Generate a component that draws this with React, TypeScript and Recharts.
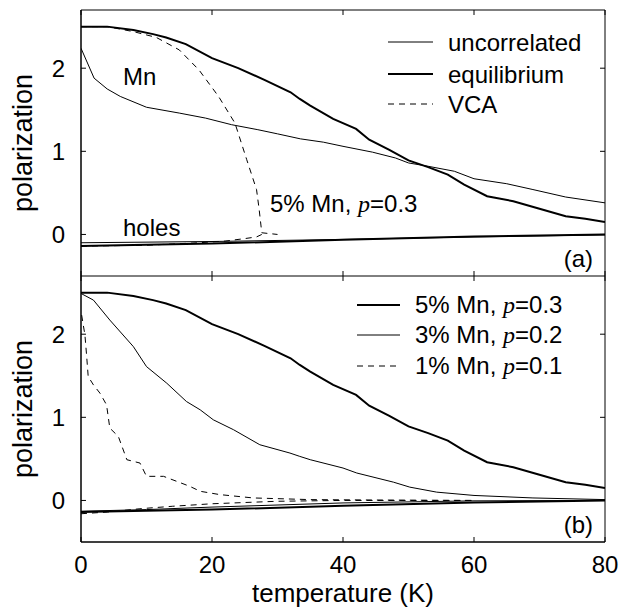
import React from "react";
import { LineChart, Line, XAxis, YAxis, ReferenceLine } from "recharts";

// temperatures (K) and polarization values
const eqT = [0, 4, 8, 11, 13, 16, 20, 24, 28, 32, 33.4, 35, 38.5, 42, 44, 47, 50, 53, 56, 58.5, 62, 66, 70, 74, 77, 80];
const eqMn = [2.5, 2.5, 2.46, 2.41, 2.37, 2.29, 2.12, 2.0, 1.86, 1.71, 1.63, 1.55, 1.39, 1.27, 1.14, 1.02, 0.89, 0.81, 0.72, 0.6, 0.46, 0.4, 0.31, 0.22, 0.19, 0.15];

const uncT = [0, 2, 4, 6, 10, 15, 19, 23, 27, 30, 33.5, 37, 40, 44.5, 48, 50, 53, 57, 60, 65, 69, 74, 80];
const uncMn = [2.24, 1.88, 1.75, 1.66, 1.53, 1.46, 1.4, 1.32, 1.26, 1.21, 1.15, 1.11, 1.06, 0.99, 0.92, 0.86, 0.82, 0.76, 0.67, 0.61, 0.54, 0.45, 0.38];

const vcaT = [0, 4, 8, 11.5, 15, 18, 21, 23.5, 25.3, 26.8, 27.2, 27.6, 30];
const vcaMn = [2.5, 2.5, 2.44, 2.37, 2.22, 1.98, 1.66, 1.34, 0.9, 0.54, 0.3, 0.02, 0.0];

const eqHoleT = [0, 20, 40, 60, 80];
const eqHoles = [-0.14, -0.11, -0.065, -0.025, 0.0];

const uncHoleT = [0, 20, 40, 60, 80];
const uncHoles = [-0.1, -0.085, -0.06, -0.03, -0.005];

const vcaHoleT = [0, 10, 14, 18, 22, 25, 26.8, 27.6];
const vcaHoles = [-0.14, -0.13, -0.115, -0.1, -0.08, -0.05, -0.03, 0.0];

const mn3T = [0, 1.9, 4.4, 8, 10, 13.1, 16.1, 18.2, 20.2, 23.3, 27.3, 31.9, 33.4, 35, 40, 42.1, 47.7, 50.2, 54.3, 60, 69, 80];
const mn3 = [2.49, 2.41, 2.17, 1.85, 1.61, 1.41, 1.19, 1.09, 0.97, 0.85, 0.67, 0.57, 0.53, 0.49, 0.39, 0.33, 0.22, 0.16, 0.1, 0.06, 0.03, 0.01];
const holes3T = [0, 10, 20, 40, 60, 80];
const holes3 = [-0.13, -0.11, -0.08, -0.03, -0.005, 0.0];

const mn1T = [0.1, 0.6, 0.87, 1.1, 1.9, 2.9, 3.9, 4.4, 5.7, 7, 9, 10, 12.6, 14.6, 16.6, 18.2, 21.2, 26.3, 35, 45, 60];
const mn1 = [2.23, 1.99, 1.73, 1.49, 1.39, 1.29, 1.15, 0.87, 0.77, 0.49, 0.45, 0.29, 0.29, 0.23, 0.17, 0.11, 0.07, 0.03, 0.01, 0.005, 0.0];
const holes1T = [0, 4, 9, 14, 20, 30, 40, 60];
const holes1 = [-0.16, -0.14, -0.1, -0.07, -0.04, -0.01, 0.0, 0.0];

const xTicks = [0, 20, 40, 60, 80];
const yTicks = [0, 1, 2];
const X_MIN = 0;
const X_MAX = 80;
const Y_MIN = -0.5;
const Y_MAX = 2.7;

const pts = (t: number[], v: number[]) => t.map((x, i) => ({ t: x, v: v[i] }));

const FONT = "'Liberation Sans', Arial, sans-serif";
const W = 619;
const tickFont = { fontSize: 24, fill: "#000", fontFamily: FONT };
// inward tick length, in data units (about 5px each way)
const TX = 0.76;
const TY = 0.06;

const frameLine = (key: string, seg: { x: number; y: number }[]) => (
  <ReferenceLine key={key} segment={seg} stroke="#000" strokeWidth={1} ifOverflow="visible" />
);

const Frame = ({ showX }: { showX: boolean }) => (
  <>
    <XAxis
      dataKey="t"
      type="number"
      domain={[X_MIN, X_MAX]}
      ticks={xTicks}
      interval={0}
      tickLine={false}
      tickSize={0}
      tickMargin={14}
      tick={showX ? tickFont : false}
      stroke="#000"
      height={showX ? 70 : 0}
      allowDataOverflow
    />
    <YAxis
      type="number"
      domain={[Y_MIN, Y_MAX]}
      ticks={yTicks}
      interval={0}
      tickLine={false}
      tickSize={0}
      tickMargin={16}
      tick={tickFont}
      stroke="#000"
      width={40}
      allowDataOverflow
    />
    {frameLine("top", [{ x: X_MIN, y: Y_MAX }, { x: X_MAX, y: Y_MAX }])}
    {frameLine("right", [{ x: X_MAX, y: Y_MIN }, { x: X_MAX, y: Y_MAX }])}
    {frameLine("bottom", [{ x: X_MIN, y: Y_MIN }, { x: X_MAX, y: Y_MIN }])}
    {frameLine("left", [{ x: X_MIN, y: Y_MIN }, { x: X_MIN, y: Y_MAX }])}
    {xTicks.map((t) => frameLine(`xb${t}`, [{ x: t, y: Y_MIN }, { x: t, y: Y_MIN + TY }]))}
    {xTicks.map((t) => frameLine(`xt${t}`, [{ x: t, y: Y_MAX }, { x: t, y: Y_MAX - TY }]))}
    {yTicks.map((v) => frameLine(`yl${v}`, [{ x: X_MIN, y: v }, { x: X_MIN + TX, y: v }]))}
    {yTicks.map((v) => frameLine(`yr${v}`, [{ x: X_MAX, y: v }, { x: X_MAX - TX, y: v }]))}
  </>
);

const series = (data: any[], width: number, dash?: string, key?: string) => (
  <Line
    key={key}
    data={data}
    dataKey="v"
    type="linear"
    stroke="#000"
    strokeWidth={width}
    strokeDasharray={dash}
    dot={false}
    activeDot={false}
    isAnimationActive={false}
  />
);

const App = () => {
  return (
    <div style={{ position: "absolute", left: 0, top: 0, width: W, height: 612, background: "#fff" }}>
      <div style={{ position: "absolute", left: 0, top: 0 }}>
        <LineChart width={W} height={276} margin={{ top: 10, right: 14, bottom: 0, left: 41 }}>
          {Frame({ showX: false })}
          {series(pts(uncT, uncMn), 1, undefined, "uncMn")}
          {series(pts(uncHoleT, uncHoles), 1, undefined, "uncH")}
          {series(pts(vcaT, vcaMn), 1, "6 5", "vcaMn")}
          {series(pts(vcaHoleT, vcaHoles), 1, "6 5", "vcaH")}
          {series(pts(eqT, eqMn), 2, undefined, "eqMn")}
          {series(pts(eqHoleT, eqHoles), 2, undefined, "eqH")}
        </LineChart>
      </div>
      <div style={{ position: "absolute", left: 0, top: 276 }}>
        <LineChart width={W} height={336} margin={{ top: 0, right: 14, bottom: 0, left: 41 }}>
          {Frame({ showX: true })}
          {series(pts(mn1T, mn1), 1, "6 5", "mn1")}
          {series(pts(holes1T, holes1), 1, "6 5", "h1")}
          {series(pts(mn3T, mn3), 1, undefined, "mn3")}
          {series(pts(holes3T, holes3), 1, undefined, "h3")}
          {series(pts(eqT, eqMn), 2, undefined, "mn5")}
          {series(pts(eqHoleT, eqHoles), 2, undefined, "h5")}
        </LineChart>
      </div>
      <svg
        width={W}
        height={612}
        style={{ position: "absolute", left: 0, top: 0, pointerEvents: "none" }}
        fontFamily={FONT}
        fill="#000"
      >
        <text transform="translate(32,143) rotate(-90)" textAnchor="middle" fontSize={27}>polarization</text>
        <text transform="translate(32,409) rotate(-90)" textAnchor="middle" fontSize={27}>polarization</text>
        <text x={343} y={602} textAnchor="middle" fontSize={26}>temperature (K)</text>

        <text x={123} y={85} fontSize={24}>Mn</text>
        <text x={123} y={236} fontSize={24}>holes</text>
        <text x={270} y={212} fontSize={24}>
          5% Mn, <tspan fontFamily="'Liberation Serif', serif" fontStyle="italic">p</tspan>=0.3
        </text>
        <text x={593} y={267} textAnchor="end" fontSize={24}>(a)</text>
        <text x={593} y={533} textAnchor="end" fontSize={24}>(b)</text>

        <line x1={388} x2={433} y1={42} y2={42} stroke="#000" strokeWidth={1} />
        <text x={448} y={51} fontSize={24}>uncorrelated</text>
        <line x1={388} x2={433} y1={74} y2={74} stroke="#000" strokeWidth={2} />
        <text x={448} y={83} fontSize={24}>equilibrium</text>
        <line x1={388} x2={433} y1={104} y2={104} stroke="#000" strokeWidth={1} strokeDasharray="6 5" />
        <text x={448} y={113} fontSize={24}>VCA</text>

        <line x1={357} x2={400} y1={305} y2={305} stroke="#000" strokeWidth={2} />
        <text x={415} y={313} fontSize={24}>
          5% Mn, <tspan fontFamily="'Liberation Serif', serif" fontStyle="italic">p</tspan>=0.3
        </text>
        <line x1={357} x2={400} y1={335} y2={335} stroke="#000" strokeWidth={1} />
        <text x={415} y={343} fontSize={24}>
          3% Mn, <tspan fontFamily="'Liberation Serif', serif" fontStyle="italic">p</tspan>=0.2
        </text>
        <line x1={357} x2={400} y1={366} y2={366} stroke="#000" strokeWidth={1} strokeDasharray="6 5" />
        <text x={415} y={374} fontSize={24}>
          1% Mn, <tspan fontFamily="'Liberation Serif', serif" fontStyle="italic">p</tspan>=0.1
        </text>
      </svg>
    </div>
  );
};

export default App;
